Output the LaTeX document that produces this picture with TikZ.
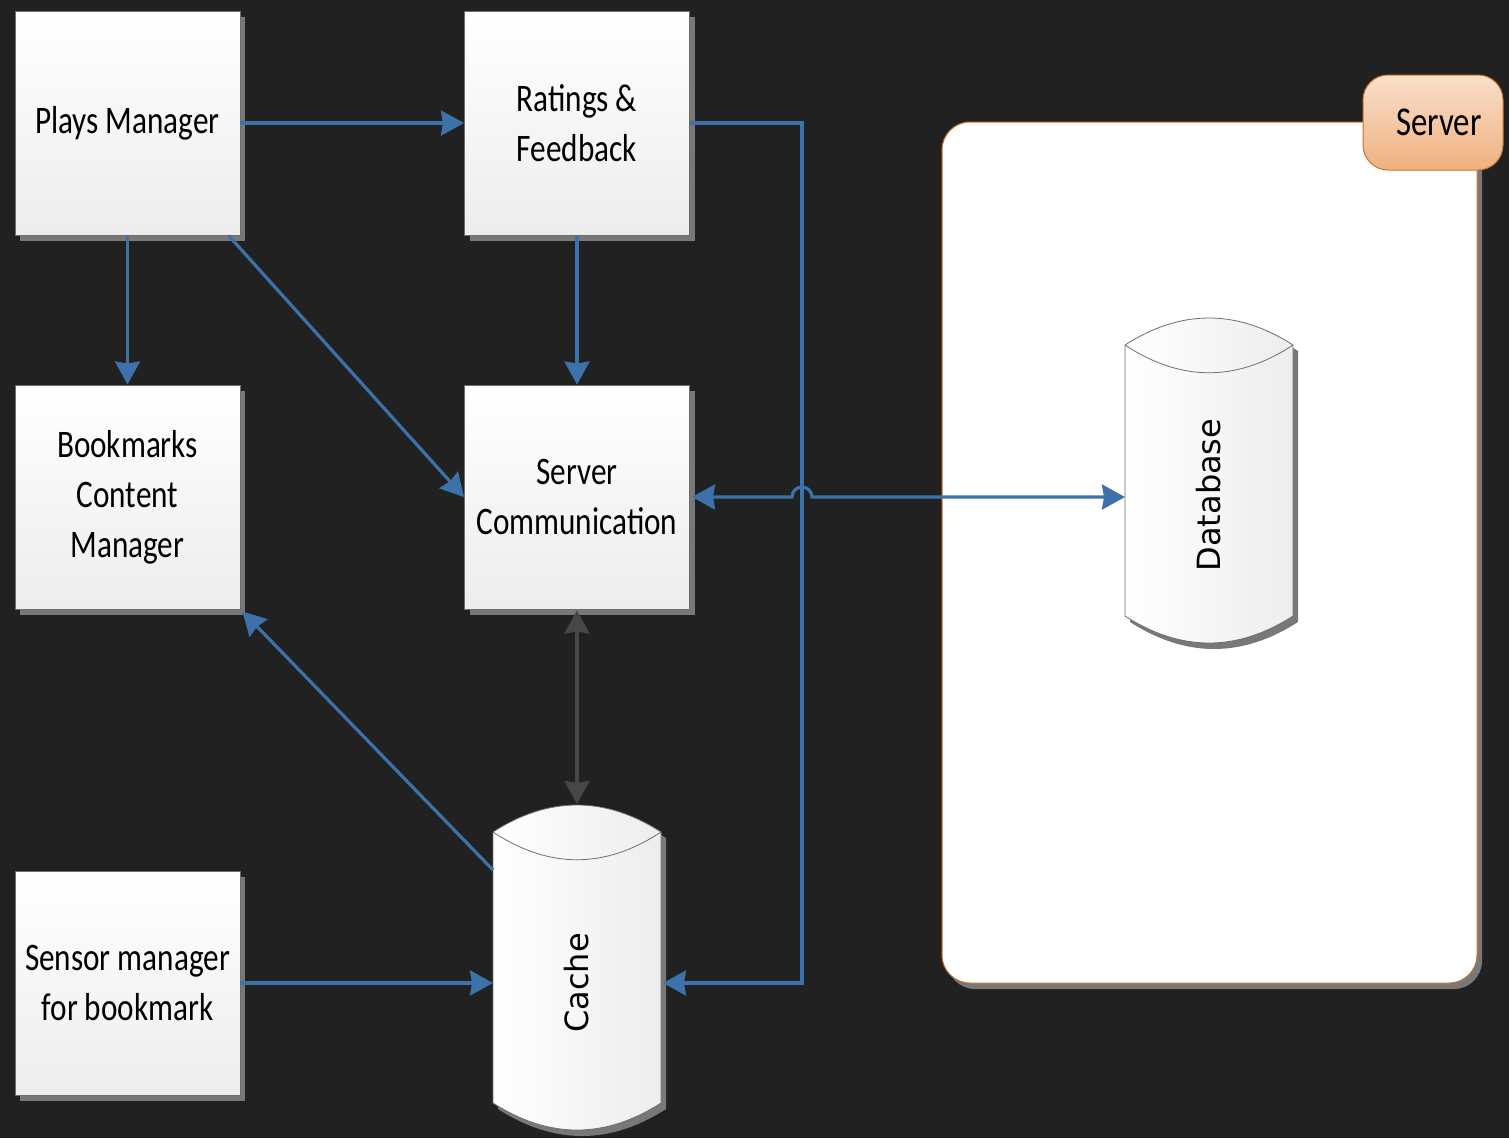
\documentclass[tikz,border=0pt]{standalone}
\usepackage{fontspec}
\setmainfont{Carlito}
\newfontfamily\boxfont[FakeStretch=0.8]{Carlito}
\newfontfamily\cylfont{DejaVu Sans}
\usetikzlibrary{arrows.meta,shadows,calc}
\definecolor{bg}{HTML}{212121}
\definecolor{lineblue}{HTML}{3C72A9}
\definecolor{darkline}{HTML}{474747}
\definecolor{shadowgray}{HTML}{787878}
\definecolor{boxborder}{HTML}{6E6E6E}
\definecolor{boxbottom}{HTML}{EDEDED}
\definecolor{srvorange}{HTML}{C8742F}
\definecolor{tabtop}{HTML}{F9E0CB}
\definecolor{tabbottom}{HTML}{EFB07F}
\tikzset{
  cyl/.pic={
    \fill[shadowgray] (5,33) .. controls (61,-3) and (117,-3) .. (173,33) -- (173,304) .. controls (117,340) and (61,340) .. (5,304) -- cycle;
    \shade[left color=white, right color=boxbottom, draw=boxborder, line width=0.8pt] (0,27) .. controls (56,-9) and (112,-9) .. (168,27) -- (168,298) .. controls (112,334) and (56,334) .. (0,298) -- cycle;
    \draw[boxborder, line width=0.8pt] (0,27) .. controls (56,64) and (112,64) .. (168,27);
  }
}
\begin{document}
\begin{tikzpicture}[x=1pt,y=-1pt,
  box/.style={draw=boxborder, line width=1pt, top color=white, bottom color=boxbottom,
    minimum width=225pt, minimum height=224pt, inner sep=0pt, align=center,
    font={\boxfont\fontsize{39}{50}\selectfont},
    general shadow={fill=shadowgray, shadow xshift=5pt, shadow yshift=-6pt}},
  conn/.style={draw=lineblue, line width=3.2pt, -{Stealth[length=23pt,width=25pt,inset=2pt]}},
  conn2/.style={draw=lineblue, line width=3.2pt, {Stealth[length=23pt,width=25pt,inset=2pt]}-{Stealth[length=23pt,width=25pt,inset=2pt]}},
  conngray/.style={draw=darkline, line width=3.2pt, {Stealth[length=23pt,width=25pt,inset=2pt]}-{Stealth[length=23pt,width=25pt,inset=2pt]}},
  cyltext/.style={rotate=90, font={\cylfont\fontsize{32}{32}\selectfont}, inner sep=0pt},
]
\useasboundingbox (0,0) rectangle (1509,1138);
\fill[bg] (0,0) rectangle (1509,1138);

% Server container
\fill[shadowgray, rounded corners=28pt] (947,128) rectangle (1482,989);
\draw[srvorange, fill=white, line width=1pt, rounded corners=28pt] (942,122) rectangle (1477,983);
\node[draw=srvorange, line width=1pt, top color=tabtop, bottom color=tabbottom, rounded corners=25pt,
  minimum width=140pt, minimum height=95pt, font={\boxfont\fontsize{41}{41}\selectfont}] (srv) at (1433,122.5) {\hspace{12pt}Server};

% Boxes
\node[box] (pm) at (127.5,123) {Plays Manager};
\node[box] (rf) at (577,123) {Ratings \&\\Feedback};
\node[box] (bcm) at (127.5,497) {Bookmarks\\Content\\Manager};
\node[box] (sc) at (577,497) {Server\\Communication};
\node[box] (sm) at (127.5,983) {Sensor manager\\for bookmark};

% Cylinders
\pic at (493,805) {cyl};
\pic at (1125,318) {cyl};
\node[cyltext] (cache) at (577,983) {Cache};
\node[cyltext] (db) at (1209,495) {Database};
\coordinate (cacheTop) at (577,804);
\coordinate (cacheW) at (493,983);
\coordinate (cacheE) at (663,983);
\coordinate (cacheNW) at (493,870);
\coordinate (dbW) at (1125,497);
\coordinate (jmp) at (802,497);

% Connectors
\draw[conn] (pm.east) -- (rf.west);
\draw[conn] (pm.south) -- (bcm.north);
\draw[conn] ([xshift=-12pt]pm.south east) -- (sc.west);
\draw[conn] (rf.south) -- (sc.north);
\draw[conn] (rf.east) -| (jmp) |- (cacheE);
\draw[conn2] ([xshift=2pt]sc.east) -- ($(jmp)+(-10,0)$) arc[start angle=180, end angle=0, radius=10pt] -- (dbW);
\draw[conngray] ([yshift=-1pt]sc.south) -- (cacheTop);
\draw[conn] (cacheNW) -- ([xshift=2pt,yshift=-2pt]bcm.south east);
\draw[conn] (sm.east) -- (cacheW);
\end{tikzpicture}
\end{document}
